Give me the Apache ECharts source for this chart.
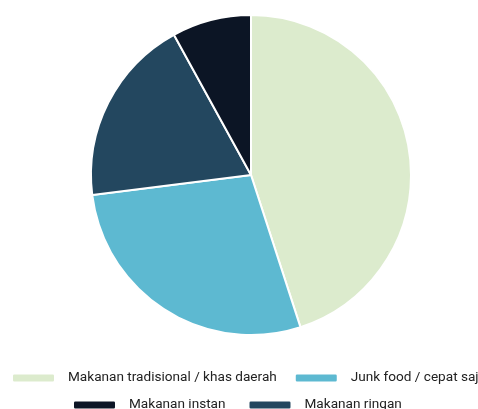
<!DOCTYPE html>
<html>
<head>
<meta charset="utf-8">
<script src="https://cdn.jsdelivr.net/npm/echarts@6/dist/echarts.min.js"></script>
<style>
  html, body { margin: 0; padding: 0; background: #fff; }
  #chart-container { width: 478px; height: 409px; }
</style>
</head>
<body>
<div id="chart-container"></div>
<script>
// categories, clockwise from 12 o'clock
var categories = ['Makanan tradisional / khas daerah', 'Junk food / cepat saji', 'Makanan ringan', 'Makanan instan'];
var values = [45, 28, 19, 8];
var colors = ['#dcebcd', '#5db9d1', '#23475f', '#0c1525'];

var legendRow1 = ['Makanan tradisional / khas daerah', 'Junk food / cepat saji'];
var legendRow2 = ['Makanan instan', 'Makanan ringan'];

var myChart = echarts.init(document.getElementById('chart-container'));

var pieData = categories.map(function (name, i) {
    return { name: name, value: values[i], itemStyle: { color: colors[i] } };
});

var legendBase = {
    icon: 'roundRect',
    itemWidth: 43,
    itemHeight: 9,
    itemGap: 17,
    width: 600,
    textStyle: { fontFamily: 'Roboto', fontSize: 13.6, color: '#222', padding: [0, 0, 0, 8] }
};

var option = {
    backgroundColor: '#fff',
    animation: false,
    legend: [
        Object.assign({}, legendBase, { left: 6, top: 366, data: legendRow1 }),
        Object.assign({}, legendBase, { left: 67, top: 393, itemGap: 22, data: legendRow2 })
    ],
    series: [{
        type: 'pie',
        center: [251, 175],
        radius: 160,
        startAngle: 90,
        clockwise: true,
        label: { show: false },
        labelLine: { show: false },
        itemStyle: { borderColor: '#fff', borderWidth: 2 },
        data: pieData
    }]
};
myChart.setOption(option);
</script>
</body>
</html>
